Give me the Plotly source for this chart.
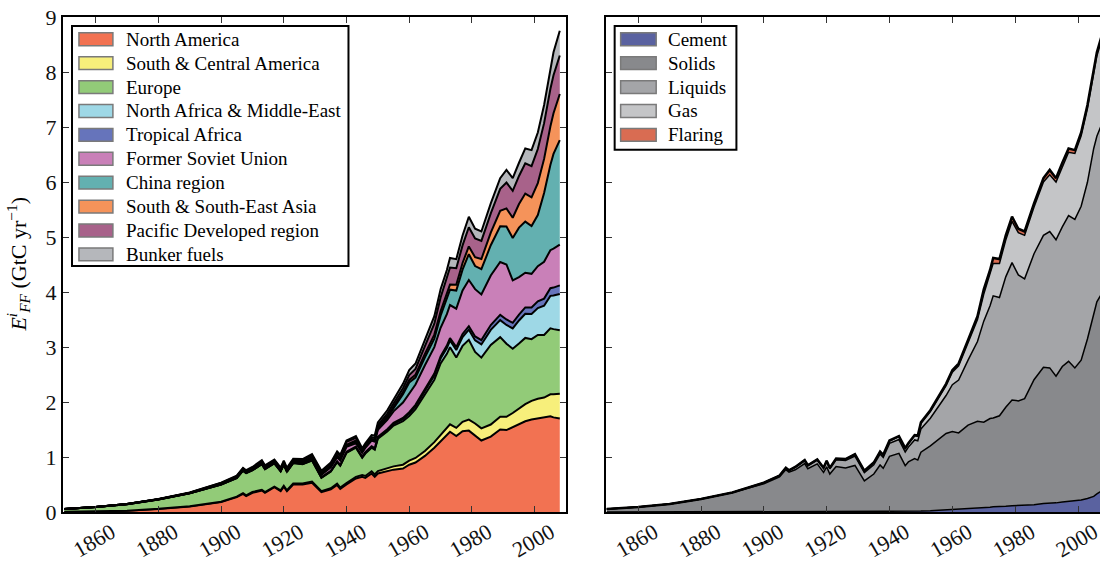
import plotly.graph_objects as go

# emissions by region and by fuel type, GtC per year
years = [1850, 1860, 1870, 1880, 1890, 1900, 1905, 1907, 1908, 1910,
         1913, 1914, 1917, 1919, 1920, 1921, 1923, 1926, 1929, 1932,
         1935, 1937, 1938, 1940, 1943, 1945, 1946, 1948, 1949, 1950,
         1953, 1955, 1958, 1960, 1962, 1965, 1968, 1970, 1972, 1973,
         1975, 1977, 1979, 1981, 1983, 1986, 1989, 1991, 1993, 1995,
         1997, 1999, 2001, 2003, 2005, 2006, 2008]

north_america = [0.004, 0.010, 0.022, 0.055, 0.100, 0.180, 0.270, 0.330, 0.290, 0.350,
                 0.390, 0.350, 0.450, 0.380, 0.460, 0.380, 0.500, 0.500, 0.530, 0.360,
                 0.410, 0.490, 0.420, 0.500, 0.610, 0.640, 0.620, 0.700, 0.640, 0.700,
                 0.740, 0.770, 0.790, 0.860, 0.900, 1.020, 1.170, 1.290, 1.400, 1.460,
                 1.380, 1.470, 1.480, 1.390, 1.300, 1.370, 1.500, 1.490, 1.540, 1.590,
                 1.650, 1.680, 1.700, 1.710, 1.740, 1.720, 1.700]
south_central_america = [0.000, 0.001, 0.002, 0.003, 0.005, 0.008, 0.010, 0.012, 0.012, 0.013,
                         0.015, 0.013, 0.013, 0.014, 0.016, 0.015, 0.017, 0.020, 0.022, 0.018,
                         0.021, 0.025, 0.025, 0.026, 0.028, 0.032, 0.035, 0.040, 0.042, 0.045,
                         0.052, 0.060, 0.070, 0.075, 0.082, 0.090, 0.100, 0.110, 0.125, 0.135,
                         0.150, 0.170, 0.200, 0.220, 0.220, 0.220, 0.230, 0.240, 0.260, 0.290,
                         0.310, 0.340, 0.360, 0.370, 0.400, 0.420, 0.450]
europe = [0.050, 0.079, 0.119, 0.170, 0.234, 0.310, 0.337, 0.410, 0.405, 0.396,
          0.463, 0.416, 0.421, 0.346, 0.383, 0.337, 0.373, 0.349, 0.384, 0.244,
          0.305, 0.392, 0.395, 0.550, 0.532, 0.313, 0.408, 0.429, 0.451, 0.587,
          0.672, 0.743, 0.791, 0.812, 0.889, 1.035, 1.135, 1.300, 1.350, 1.402,
          1.280, 1.380, 1.450, 1.300, 1.287, 1.447, 1.449, 1.330, 1.168, 1.182,
          1.205, 1.122, 1.158, 1.140, 1.200, 1.185, 1.155]
n_africa_middle_east = [0.000, 0.000, 0.000, 0.000, 0.000, 0.001, 0.001, 0.001, 0.001, 0.001,
                        0.002, 0.002, 0.002, 0.002, 0.002, 0.002, 0.003, 0.003, 0.004, 0.004,
                        0.005, 0.006, 0.006, 0.007, 0.008, 0.010, 0.012, 0.014, 0.015, 0.018,
                        0.022, 0.028, 0.036, 0.042, 0.050, 0.062, 0.078, 0.090, 0.108, 0.120,
                        0.135, 0.160, 0.185, 0.210, 0.240, 0.275, 0.310, 0.340, 0.370, 0.420,
                        0.440, 0.460, 0.490, 0.530, 0.590, 0.610, 0.660]
tropical_africa = [0.000, 0.000, 0.000, 0.000, 0.001, 0.002, 0.003, 0.003, 0.003, 0.004,
                   0.005, 0.005, 0.005, 0.005, 0.006, 0.006, 0.006, 0.007, 0.008, 0.007,
                   0.008, 0.010, 0.010, 0.011, 0.012, 0.012, 0.013, 0.014, 0.015, 0.016,
                   0.018, 0.020, 0.023, 0.025, 0.027, 0.031, 0.035, 0.040, 0.044, 0.046,
                   0.052, 0.057, 0.063, 0.072, 0.078, 0.088, 0.096, 0.100, 0.102, 0.108,
                   0.115, 0.118, 0.122, 0.130, 0.140, 0.145, 0.155]
former_soviet_union = [0.000, 0.000, 0.001, 0.002, 0.004, 0.012, 0.014, 0.015, 0.015, 0.016,
                       0.020, 0.018, 0.012, 0.005, 0.005, 0.006, 0.008, 0.015, 0.025, 0.045,
                       0.065, 0.075, 0.080, 0.090, 0.060, 0.070, 0.080, 0.100, 0.115, 0.130,
                       0.170, 0.210, 0.280, 0.330, 0.370, 0.430, 0.480, 0.520, 0.570, 0.600,
                       0.700, 0.790, 0.840, 0.860, 0.830, 0.900, 0.960, 1.000, 0.770, 0.680,
                       0.630, 0.610, 0.640, 0.670, 0.690, 0.710, 0.740]
china_region = [0.000, 0.000, 0.000, 0.000, 0.001, 0.001, 0.002, 0.002, 0.002, 0.003,
                0.005, 0.005, 0.006, 0.006, 0.007, 0.007, 0.008, 0.009, 0.011, 0.012,
                0.015, 0.018, 0.018, 0.022, 0.030, 0.015, 0.012, 0.013, 0.012, 0.022,
                0.040, 0.055, 0.150, 0.210, 0.125, 0.145, 0.155, 0.220, 0.270, 0.280,
                0.330, 0.380, 0.470, 0.420, 0.460, 0.550, 0.650, 0.690, 0.770, 0.900,
                0.930, 0.870, 0.930, 1.250, 1.550, 1.720, 1.900]
south_se_asia = [0.000, 0.000, 0.000, 0.001, 0.002, 0.004, 0.005, 0.006, 0.006, 0.007,
                 0.008, 0.008, 0.009, 0.009, 0.010, 0.010, 0.010, 0.011, 0.013, 0.012,
                 0.013, 0.015, 0.015, 0.017, 0.018, 0.018, 0.018, 0.020, 0.021, 0.024,
                 0.028, 0.032, 0.040, 0.046, 0.052, 0.062, 0.072, 0.080, 0.088, 0.092,
                 0.105, 0.120, 0.140, 0.160, 0.185, 0.230, 0.280, 0.330, 0.370, 0.430,
                 0.510, 0.520, 0.580, 0.620, 0.700, 0.740, 0.840]
pacific_developed = [0.000, 0.000, 0.001, 0.002, 0.004, 0.008, 0.011, 0.013, 0.013, 0.015,
                     0.018, 0.018, 0.022, 0.024, 0.025, 0.022, 0.025, 0.027, 0.031, 0.028,
                     0.036, 0.044, 0.046, 0.052, 0.052, 0.020, 0.020, 0.030, 0.034, 0.038,
                     0.048, 0.052, 0.070, 0.090, 0.105, 0.140, 0.200, 0.250, 0.280, 0.310,
                     0.300, 0.320, 0.350, 0.340, 0.330, 0.350, 0.400, 0.470, 0.490, 0.510,
                     0.550, 0.570, 0.620, 0.650, 0.680, 0.690, 0.700]
bunker_fuels = [0.000, 0.001, 0.002, 0.003, 0.005, 0.008, 0.010, 0.012, 0.012, 0.014,
                0.017, 0.015, 0.015, 0.015, 0.018, 0.018, 0.020, 0.022, 0.025, 0.020,
                0.022, 0.025, 0.025, 0.025, 0.030, 0.030, 0.032, 0.040, 0.045, 0.050,
                0.060, 0.070, 0.080, 0.090, 0.100, 0.115, 0.135, 0.150, 0.165, 0.175,
                0.165, 0.180, 0.190, 0.180, 0.170, 0.180, 0.195, 0.230, 0.230, 0.240,
                0.270, 0.290, 0.300, 0.330, 0.400, 0.420, 0.450]

cement = [0, 0, 0, 0, 0, 0, 0, 0, 0, 0,
          0, 0, 0, 0, 0, 0, 0, 0, 0.010, 0.007,
          0.009, 0.011, 0.012, 0.014, 0.012, 0.008, 0.010, 0.014, 0.015, 0.018,
          0.024, 0.030, 0.037, 0.043, 0.047, 0.056, 0.066, 0.078, 0.087, 0.095,
          0.095, 0.105, 0.113, 0.116, 0.117, 0.130, 0.156, 0.157, 0.166, 0.181,
          0.193, 0.199, 0.218, 0.247, 0.284, 0.330, 0.400]
solids = [0.054, 0.091, 0.146, 0.235, 0.352, 0.515, 0.637, 0.771, 0.724, 0.768,
          0.881, 0.786, 0.875, 0.719, 0.821, 0.691, 0.828, 0.800, 0.837, 0.559,
          0.681, 0.843, 0.782, 0.997, 1.055, 0.835, 0.900, 0.956, 0.929, 1.069,
          1.180, 1.262, 1.391, 1.422, 1.391, 1.524, 1.584, 1.554, 1.613, 1.615,
          1.655, 1.800, 1.922, 1.904, 1.943, 2.275, 2.474, 2.463, 2.304, 2.464,
          2.547, 2.421, 2.542, 2.898, 3.346, 3.492, 3.612]
liquids = [0, 0, 0.0005, 0.001, 0.003, 0.016, 0.022, 0.028, 0.030, 0.043,
           0.052, 0.054, 0.068, 0.075, 0.094, 0.095, 0.120, 0.135, 0.170, 0.150,
           0.170, 0.200, 0.200, 0.236, 0.250, 0.250, 0.270, 0.340, 0.350, 0.423,
           0.500, 0.580, 0.690, 0.849, 0.960, 1.180, 1.450, 1.838, 2.050, 2.220,
           2.150, 2.370, 2.500, 2.290, 2.180, 2.290, 2.400, 2.480, 2.480, 2.540,
           2.650, 2.700, 2.800, 2.850, 2.980, 3.010, 3.100]
gas = [0, 0, 0, 0, 0.001, 0.003, 0.004, 0.005, 0.005, 0.008,
       0.010, 0.010, 0.012, 0.012, 0.015, 0.015, 0.020, 0.025, 0.032, 0.030,
       0.035, 0.040, 0.040, 0.046, 0.055, 0.058, 0.060, 0.075, 0.080, 0.097,
       0.120, 0.140, 0.180, 0.227, 0.260, 0.320, 0.400, 0.493, 0.560, 0.590,
       0.620, 0.670, 0.750, 0.770, 0.790, 0.850, 0.970, 1.030, 1.050, 1.100,
       1.150, 1.200, 1.280, 1.340, 1.410, 1.460, 1.570]
flaring = [0, 0, 0, 0, 0, 0, 0, 0, 0, 0,
           0, 0, 0, 0, 0.002, 0.002, 0.002, 0.003, 0.004, 0.004,
           0.005, 0.006, 0.006, 0.007, 0.008, 0.009, 0.010, 0.015, 0.016, 0.023,
           0.026, 0.028, 0.032, 0.039, 0.042, 0.050, 0.060, 0.087, 0.090, 0.100,
           0.080, 0.085, 0.085, 0.070, 0.070, 0.065, 0.070, 0.090, 0.070, 0.065,
           0.070, 0.060, 0.060, 0.065, 0.070, 0.068, 0.068]

regions = [
    ("North America", north_america, "#f27252"),
    ("South & Central America", south_central_america, "#f7ef7b"),
    ("Europe", europe, "#92cb78"),
    ("North Africa & Middle-East", n_africa_middle_east, "#9ed8e6"),
    ("Tropical Africa", tropical_africa, "#6674bb"),
    ("Former Soviet Union", former_soviet_union, "#c980b8"),
    ("China region", china_region, "#63b0b0"),
    ("South & South-East Asia", south_se_asia, "#f5935a"),
    ("Pacific Developed region", pacific_developed, "#a8628a"),
    ("Bunker fuels", bunker_fuels, "#b5b7bb"),
]
fuels = [
    ("Cement", cement, "#5a62a0"),
    ("Solids", solids, "#88898c"),
    ("Liquids", liquids, "#a4a5a8"),
    ("Gas", gas, "#c4c5c7"),
    ("Flaring", flaring, "#d96c52"),
]

FONT = "Liberation Serif"

fig = go.Figure()

for name, vals, col in regions:
    fig.add_trace(go.Scatter(x=years, y=vals, name=name, stackgroup="reg", mode="lines",
                             line=dict(color="black", width=2), fillcolor=col,
                             xaxis="x", yaxis="y", showlegend=False, hoverinfo="skip"))

for i, (name, vals, col) in enumerate(fuels):
    w = 2.5 if i == len(fuels) - 1 else 1.5
    fig.add_trace(go.Scatter(x=years, y=vals, name=name, stackgroup="fuel", mode="lines",
                             line=dict(color="black", width=w), fillcolor=col,
                             xaxis="x2", yaxis="y2", showlegend=False, hoverinfo="skip"))

xcommon = dict(showline=True, linecolor="black", linewidth=2, ticks="inside", ticklen=6,
               tickcolor="#333", tickwidth=1, tick0=1860, dtick=20, tickangle=-30,
               ticklabelshift=16, ticklabelstandoff=-3, ticklabeloverflow="allow",
               showgrid=False, zeroline=False,
               tickfont=dict(family=FONT, size=22, color="#111"))
ycommon = dict(showline=True, linecolor="black", linewidth=2, ticks="inside", ticklen=6,
               tickcolor="#333", tickwidth=1, range=[0, 9], dtick=1, showgrid=False,
               zeroline=False, tickfont=dict(family=FONT, size=22, color="#111"))

fig.update_layout(
    width=1102, height=562,
    margin=dict(l=63, r=0, t=17, b=44),
    paper_bgcolor="white", plot_bgcolor="white",
    showlegend=False,
    xaxis=dict(xcommon, domain=[0, 0.4851], range=[1849.6, 2010], mirror="ticks", anchor="y"),
    yaxis=dict(ycommon, domain=[0, 1], mirror="ticks", anchor="x"),
    xaxis2=dict(xcommon, domain=[0.5233, 1], range=[1849.65, 2007.0], mirror="ticks", anchor="y2"),
    yaxis2=dict(ycommon, domain=[0, 1], mirror=False, showticklabels=False, anchor="x2"),
)

# hand-drawn legends, one per panel
def add_legend(xr, yr, entries, box, sw, tx):
    fig.add_shape(type="rect", xref=xr, yref=yr, x0=box[0], x1=box[1], y0=box[2], y1=box[3],
                  line=dict(color="black", width=2), fillcolor="white", layer="above")
    for k, (name, _, col) in enumerate(entries):
        yc = (518 - (39.5 + 24.2 * k)) / 501
        fig.add_shape(type="rect", xref=xr, yref=yr, x0=sw[0], x1=sw[1],
                      y0=yc - 6.5 / 501, y1=yc + 6.5 / 501,
                      line=dict(color="#7a7a7a", width=1.5), fillcolor=col, layer="above")
        fig.add_annotation(xref=xr, yref=yr, x=tx, y=yc, text=name, showarrow=False,
                           xanchor="left", yanchor="middle",
                           font=dict(family=FONT, size=19, color="black"))

add_legend("x domain", "y domain", regions, (0.0179, 0.5675, 0.497, 0.982),
           (0.0317, 0.0992), 0.121)
add_legend("x2 domain", "y2 domain", fuels, (0.0182, 0.2645, 0.732, 0.982),
           (0.0303, 0.1022), 0.123)

fig.add_annotation(xref="paper", yref="paper", x=-0.0433, y=0.5, textangle=-90,
                   showarrow=False, xanchor="center", yanchor="middle",
                   text="<i>E</i><sup><i>i</i></sup><sub><i>FF</i></sub> (GtC yr<sup>\u22121</sup>)",
                   font=dict(family=FONT, size=22, color="black"))

# page margin off so the figure sits at the window's corner
fig.write_html("out.html", config={"displayModeBar": False},
               post_script="document.body.style.margin='0';document.body.style.overflow='hidden';")
